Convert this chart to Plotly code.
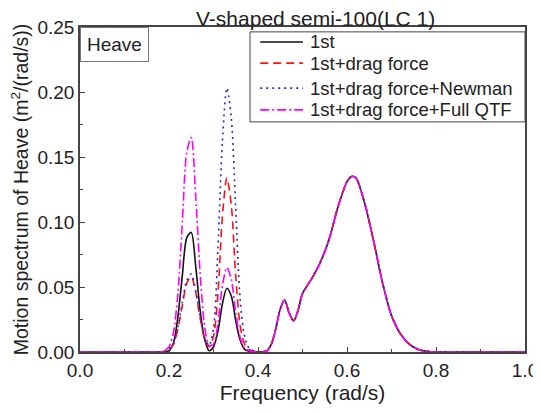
import plotly.graph_objects as go

freq = [0.00, 0.10, 0.18, 0.19, 0.20, 0.21, 0.22, 0.23, 0.24, 0.25, 0.26, 0.27, 0.28, 0.29,
        0.30, 0.31, 0.32, 0.33, 0.34, 0.35, 0.36, 0.37, 0.38, 0.40, 0.42, 0.43, 0.44, 0.45,
        0.46, 0.47, 0.48, 0.49, 0.50, 0.52, 0.54, 0.56, 0.58, 0.60, 0.61, 0.62, 0.64, 0.66,
        0.68, 0.70, 0.72, 0.74, 0.76, 0.78, 0.80, 0.90, 1.00]

first = [0.0, 0.0, 0.0, 0.0, 0.001, 0.007, 0.027, 0.059, 0.088, 0.092, 0.066, 0.032, 0.010, 0.001,
         0.004, 0.016, 0.037, 0.049, 0.043, 0.024, 0.009, 0.002, 0.0005, 0.0, 0.001, 0.006, 0.018, 0.033,
         0.040, 0.030, 0.024, 0.032, 0.045, 0.056, 0.069, 0.087, 0.112, 0.131, 0.135, 0.134, 0.114, 0.085,
         0.053, 0.028, 0.014, 0.006, 0.002, 0.0005, 0.0, 0.0, 0.0]

drag = [0.0, 0.0, 0.0, 0.0005, 0.002, 0.006, 0.018, 0.036, 0.053, 0.058, 0.046, 0.026, 0.010, 0.004,
        0.012, 0.045, 0.104, 0.134, 0.113, 0.058, 0.020, 0.006, 0.002, 0.0, 0.001, 0.006, 0.018, 0.033,
        0.040, 0.030, 0.024, 0.032, 0.045, 0.056, 0.069, 0.087, 0.112, 0.131, 0.135, 0.134, 0.114, 0.085,
        0.053, 0.028, 0.014, 0.006, 0.002, 0.0005, 0.0, 0.0, 0.0]

newman = [0.0, 0.0, 0.0, 0.0005, 0.002, 0.006, 0.019, 0.038, 0.055, 0.060, 0.047, 0.027, 0.011, 0.005,
          0.018, 0.080, 0.162, 0.203, 0.180, 0.110, 0.040, 0.012, 0.003, 0.0, 0.001, 0.006, 0.018, 0.033,
          0.040, 0.030, 0.024, 0.032, 0.045, 0.056, 0.069, 0.087, 0.112, 0.131, 0.135, 0.134, 0.114, 0.085,
          0.053, 0.028, 0.014, 0.006, 0.002, 0.0005, 0.0, 0.0, 0.0]

full_qtf = [0.0, 0.0, 0.0, 0.001, 0.004, 0.015, 0.045, 0.100, 0.154, 0.165, 0.120, 0.060, 0.020, 0.005,
            0.006, 0.022, 0.051, 0.065, 0.056, 0.030, 0.011, 0.003, 0.001, 0.0, 0.001, 0.006, 0.018, 0.033,
            0.040, 0.030, 0.024, 0.032, 0.045, 0.056, 0.069, 0.087, 0.112, 0.131, 0.135, 0.134, 0.114, 0.085,
            0.053, 0.028, 0.014, 0.006, 0.002, 0.0005, 0.0, 0.0, 0.0]

names = ["1st", "1st+drag force", "1st+drag force+Newman", "1st+drag force+Full QTF"]
series = [first, drag, newman, full_qtf]
colors = ["#111111", "#ff1010", "#2a2ad0", "#ff00ff"]
dashes = ["solid", "8px,5px", "2px,4px", "9px,3px,2px,3px"]

FONT = "Liberation Sans, Arial, sans-serif"

fig = go.Figure()
for name, ys, c, d in zip(names, series, colors, dashes):
    fig.add_trace(go.Scatter(
        x=freq, y=ys, name=name, mode="lines", showlegend=False,
        line=dict(color=c, width=1.6, dash=d, shape="spline", smoothing=0.8),
    ))

axis_common = dict(
    showline=True, linecolor="#444444", linewidth=1.5, mirror=True,
    ticks="inside", ticklen=5, tickwidth=1, tickcolor="#444444",
    showgrid=False, zeroline=False, automargin=False,
    tickfont=dict(family=FONT, size=19, color="#222222"),
)

fig.update_xaxes(
    range=[0, 1], tickvals=[0, 0.2, 0.4, 0.6, 0.8, 1.0], tickformat=".1f",
    minor=dict(ticks="inside", ticklen=3, tickcolor="#444444", dtick=0.1, tick0=0),
    title=dict(text="Frequency (rad/s)", font=dict(family=FONT, size=21, color="#222222"), standoff=4),
    **axis_common,
)
fig.update_yaxes(
    range=[0, 0.25], tickvals=[0, 0.05, 0.10, 0.15, 0.20, 0.25], tickformat=".2f",
    minor=dict(ticks="inside", ticklen=3, tickcolor="#444444", dtick=0.025, tick0=0),
    title=dict(text="Motion spectrum of Heave (m<sup>2</sup>/(rad/s))",
               font=dict(family=FONT, size=19.5, color="#222222"), standoff=4),
    **axis_common,
)

# hand-placed legend box (paper coordinates) to match the compact original legend
leg_x0, leg_x1, leg_y0, leg_y1 = 0.382, 1.0, 0.708, 0.985
sample_x0, sample_x1, text_x = 0.405, 0.501, 0.512
entry_y = [0.954, 0.889, 0.812, 0.745]

shapes = [dict(type="rect", xref="paper", yref="paper", x0=leg_x0, x1=leg_x1, y0=leg_y0, y1=leg_y1,
               line=dict(color="#444444", width=1), fillcolor="white", layer="above")]
annotations = []
for name, c, d, yy in zip(names, colors, dashes, entry_y):
    shapes.append(dict(type="line", xref="paper", yref="paper", x0=sample_x0, x1=sample_x1,
                       y0=yy, y1=yy, line=dict(color=c, width=1.6, dash=d), layer="above"))
    annotations.append(dict(text=name, xref="paper", yref="paper", x=text_x, y=yy,
                            xanchor="left", yanchor="middle", showarrow=False,
                            font=dict(family=FONT, size=18.5, color="#222222")))

annotations += [
    dict(text="V-shaped semi-100(LC 1)", xref="paper", yref="paper",
         x=0.53, y=1.0, xanchor="center", yanchor="bottom", showarrow=False,
         font=dict(family=FONT, size=21, color="#222222"), yshift=-5),
    dict(text="Heave", xref="paper", yref="paper", x=0, y=1,
         xanchor="left", yanchor="top", showarrow=False,
         bordercolor="#777777", borderwidth=1, borderpad=6, bgcolor="white",
         font=dict(family=FONT, size=19, color="#222222")),
]

fig.update_layout(
    width=533, height=404,
    margin=dict(l=72, r=16, t=19, b=60),
    paper_bgcolor="white", plot_bgcolor="white",
    showlegend=False,
    shapes=shapes,
    annotations=annotations,
)

fig.write_html("out.html")
